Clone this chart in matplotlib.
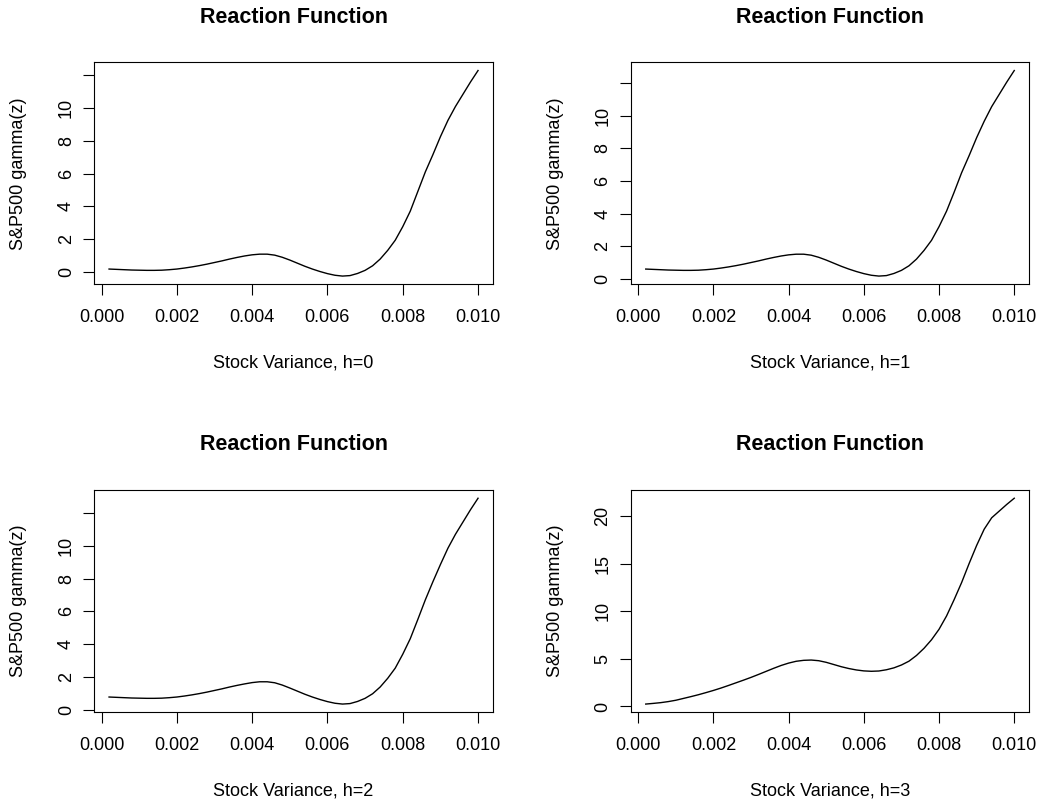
import numpy as np
import matplotlib
matplotlib.use("Agg")
import matplotlib.pyplot as plt

plt.rcParams['font.family'] = ['Liberation Sans', 'DejaVu Sans']

# stock variance grid
x = [0.0002, 0.0004, 0.0006, 0.0008, 0.0010, 0.0012, 0.0014, 0.0016, 0.0018, 0.0020,
     0.0022, 0.0024, 0.0026, 0.0028, 0.0030, 0.0032, 0.0034, 0.0036, 0.0038, 0.0040,
     0.0042, 0.0044, 0.0046, 0.0048, 0.0050, 0.0052, 0.0054, 0.0056, 0.0058, 0.0060,
     0.0062, 0.0064, 0.0066, 0.0068, 0.0070, 0.0072, 0.0074, 0.0076, 0.0078, 0.0080,
     0.0082, 0.0084, 0.0086, 0.0088, 0.0090, 0.0092, 0.0094, 0.0096, 0.0098, 0.0100]

# reaction function gamma(z) for horizons h=0..3
g_h0 = [0.16, 0.14, 0.12, 0.10, 0.09, 0.08, 0.08, 0.09, 0.12, 0.16,
        0.22, 0.29, 0.37, 0.46, 0.56, 0.66, 0.77, 0.87, 0.96, 1.03,
        1.07, 1.07, 1.01, 0.88, 0.71, 0.52, 0.33, 0.16, 0.01, -0.12,
        -0.22, -0.27, -0.24, -0.11, 0.08, 0.36, 0.77, 1.30, 1.92, 2.75,
        3.70, 4.90, 6.10, 7.15, 8.25, 9.25, 10.10, 10.85, 11.60, 12.30]
g_h1 = [0.60, 0.58, 0.56, 0.54, 0.53, 0.52, 0.52, 0.53, 0.56, 0.60,
        0.66, 0.73, 0.81, 0.90, 1.00, 1.10, 1.21, 1.31, 1.40, 1.47,
        1.51, 1.51, 1.45, 1.32, 1.15, 0.96, 0.77, 0.60, 0.45, 0.32,
        0.22, 0.17, 0.20, 0.33, 0.52, 0.80, 1.21, 1.74, 2.36, 3.20,
        4.15, 5.30, 6.50, 7.55, 8.65, 9.65, 10.55, 11.30, 12.05, 12.76]
g_h2 = [0.77, 0.75, 0.73, 0.71, 0.70, 0.69, 0.69, 0.70, 0.73, 0.77,
        0.83, 0.90, 0.98, 1.07, 1.17, 1.27, 1.38, 1.48, 1.57, 1.65,
        1.70, 1.70, 1.64, 1.50, 1.32, 1.13, 0.94, 0.77, 0.62, 0.49,
        0.39, 0.34, 0.37, 0.50, 0.69, 0.97, 1.38, 1.91, 2.53, 3.38,
        4.33, 5.50, 6.70, 7.80, 8.85, 9.85, 10.70, 11.45, 12.20, 12.90]
g_h3 = [0.25, 0.32, 0.40, 0.51, 0.65, 0.84, 1.03, 1.23, 1.45, 1.68,
        1.93, 2.20, 2.48, 2.76, 3.05, 3.36, 3.68, 4.00, 4.30, 4.55,
        4.74, 4.84, 4.87, 4.80, 4.63, 4.40, 4.17, 3.98, 3.83, 3.73,
        3.69, 3.72, 3.85, 4.05, 4.35, 4.75, 5.35, 6.10, 7.00, 8.10,
        9.50, 11.2, 13.0, 15.0, 16.9, 18.6, 19.8, 20.5, 21.2, 21.85]

series = [g_h0, g_h1, g_h2, g_h3]
xlabels = ['Stock Variance, h=0', 'Stock Variance, h=1',
           'Stock Variance, h=2', 'Stock Variance, h=3']
yticks_list = [[0, 2, 4, 6, 8, 10, 12]] * 3 + [[0, 5, 10, 15, 20]]
ytlabels_list = [['0', '2', '4', '6', '8', '10', '']] * 3 + [['0', '5', '10', '15', '20']]
xticks = [0.000, 0.002, 0.004, 0.006, 0.008, 0.010]

W, H = 1042, 802
fig = plt.figure(figsize=(W / 100, H / 100), dpi=100)

# axes boxes in pixels: left, top, width, height
boxes = [(94.3, 62.3, 398.5, 222.0), (631.0, 62.3, 398.0, 222.0),
         (94.3, 490.0, 398.5, 222.3), (631.0, 490.0, 398.0, 222.3)]

for i, (l, t, w, h) in enumerate(boxes):
    ax = fig.add_axes([l / W, 1 - (t + h) / H, w / W, h / H])
    y = series[i]
    ax.plot(x, y, color='black', lw=1.0)

    # R style 4% padding
    rx = max(x) - min(x)
    ry = max(y) - min(y)
    ax.set_xlim(min(x) - 0.04 * rx, max(x) + 0.04 * rx)
    ax.set_ylim(min(y) - 0.04 * ry, max(y) + 0.04 * ry)

    ax.set_xticks(xticks)
    ax.set_xticklabels(['%.3f' % v for v in xticks])
    ax.set_yticks(yticks_list[i])
    ax.set_yticklabels(ytlabels_list[i], rotation=90, va='center')
    ax.tick_params(direction='out', length=8, width=0.8, labelsize=13, pad=10)
    ax.tick_params(axis='y', pad=6)
    for s in ax.spines.values():
        s.set_linewidth(0.8)

    ax.set_xlabel(xlabels[i], fontsize=13)
    ax.xaxis.set_label_coords(0.5, -79 / h)
    ax.xaxis.label.set_va('center')
    ax.set_ylabel('S&P500 gamma(z)', fontsize=13)
    ax.yaxis.set_label_coords(-76 / w, 0.5)
    ax.yaxis.label.set_va('center')

    ax.text(0.5, 1 + 45 / h, 'Reaction Function', transform=ax.transAxes,
            ha='center', va='center', fontsize=15.5, fontweight='bold')

fig.savefig('out.png', dpi=100)
